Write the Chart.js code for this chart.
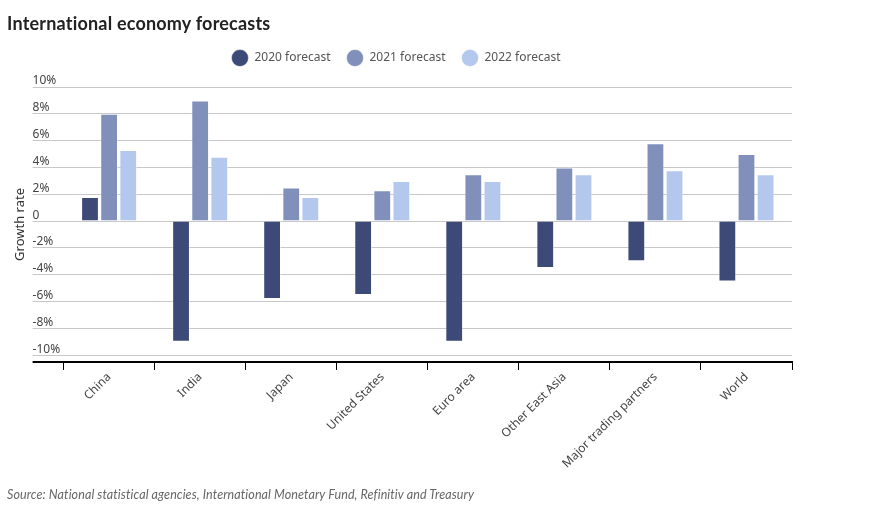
<!DOCTYPE html>
<html>
<head>
<meta charset="utf-8">
<title>International economy forecasts</title>
<script src="https://cdn.jsdelivr.net/npm/chart.js@4.4.0/dist/chart.umd.min.js"></script>
<style>
  body { margin: 0; background: #fff; }
  #wrap { position: relative; width: 871px; height: 505px; overflow: hidden; }
  #chart-box { position: absolute; left: 0; top: 0; width: 871px; height: 505px; }
  h1 { position: absolute; left: 7px; top: 12px; margin: 0; font: 700 18px Lato, sans-serif; letter-spacing: 0.2px; color: #222; z-index: 2; }
  .source { position: absolute; left: 7px; top: 487px; font: italic 12.5px Lato, sans-serif; letter-spacing: 0.1px; color: #666; z-index: 2; }
</style>
</head>
<body>
<div id="wrap">
  <h1>International economy forecasts</h1>
  <div id="chart-box"><canvas id="myChart"></canvas></div>
  <div class="source">Source: National statistical agencies, International Monetary Fund, Refinitiv and Treasury</div>
</div>
<script>
// data (growth rate, %)
const categories = ['China', 'India', 'Japan', 'United States', 'Euro area', 'Other East Asia', 'Major trading partners', 'World'];
const forecast2020 = [1.8, -9.0, -5.8, -5.5, -9.0, -3.5, -3.0, -4.5];
const forecast2021 = [8.0, 9.0, 2.5, 2.3, 3.5, 4.0, 5.8, 5.0];
const forecast2022 = [5.3, 4.8, 1.8, 3.0, 3.0, 3.5, 3.8, 3.5];
const yTicks = [10, 8, 6, 4, 2, 0, -2, -4, -6, -8, -10];
const yMax = 10;
const yMin = -10.5;

Chart.defaults.font.family = "'Noto Sans', sans-serif";
Chart.defaults.font.size = 12;
Chart.defaults.color = '#444';

// push the plot down a bit below the legend
const legendMargin = {
    id: 'legendMargin',
    beforeInit(chart) {
        const fitValue = chart.legend.fit;
        chart.legend.fit = function fit() {
            fitValue.bind(chart.legend)();
            this.height += 13;
        };
    }
};

const data = {
    labels: categories,
    datasets: [{
        label: '2020 forecast',
        data: forecast2020,
        backgroundColor: '#3d4977',
        borderColor: 'rgba(255,255,255,0.45)',
        borderWidth: 1
    }, {
        label: '2021 forecast',
        data: forecast2021,
        backgroundColor: '#8190ba',
        borderColor: 'rgba(255,255,255,0.45)',
        borderWidth: 1
    }, {
        label: '2022 forecast',
        data: forecast2022,
        backgroundColor: '#b4c8ee',
        borderColor: 'rgba(255,255,255,0.45)',
        borderWidth: 1
    }]
};

const config = {
    type: 'bar',
    data: data,
    options: {
        responsive: true,
        maintainAspectRatio: false,
        animation: false,
        categoryPercentage: 0.63,
        barPercentage: 0.93,
        layout: {
            padding: { top: 36, left: 0, right: 79, bottom: 34 }
        },
        plugins: {
            tooltip: { enabled: false },
            legend: {
                position: 'top',
                align: 'center',
                labels: {
                    usePointStyle: true,
                    pointStyle: 'circle',
                    pointStyleWidth: 17,
                    boxHeight: 12,
                    padding: 16,
                    color: '#555',
                    font: { size: 12 }
                }
            }
        },
        scales: {
            x: {
                offset: true,
                border: { display: true, color: '#000', width: 2 },
                grid: {
                    display: true,
                    offset: true,
                    drawOnChartArea: false,
                    drawTicks: true,
                    tickLength: 8,
                    color: '#000',
                    lineWidth: 1
                },
                ticks: {
                    minRotation: 45,
                    maxRotation: 45,
                    padding: 0,
                    color: '#444',
                    font: { size: 12 }
                }
            },
            y: {
                position: 'left',
                weight: 0,
                min: yMin,
                max: yMax,
                border: { display: false },
                grid: {
                    color: ctx => (ctx.tick && ctx.tick.value === yMin) ? '#000' : '#c8c8c8',
                    lineWidth: ctx => (ctx.tick && ctx.tick.value === yMin) ? 2 : 1,
                    drawTicks: true,
                    tickLength: 31
                },
                afterBuildTicks: scale => {
                    scale.ticks = [{ value: yMin }].concat(yTicks.map(v => ({ value: v })));
                },
                afterFit: scale => {
                    scale.width = 31;
                },
                ticks: {
                    crossAlign: 'far',
                    labelOffset: -6,
                    color: '#444',
                    font: { size: 12 },
                    callback: value => {
                        if (value === yMin) return '';
                        if (value === 0) return '0';
                        return value + '%';
                    }
                }
            },
            yTitle: {
                type: 'linear',
                position: 'left',
                weight: 1,
                border: { display: false },
                grid: { display: false, drawTicks: false },
                ticks: { display: false },
                title: {
                    display: true,
                    text: 'Growth rate',
                    color: '#333',
                    font: { size: 13 },
                    padding: { top: 12, bottom: 5 }
                }
            }
        }
    },
    plugins: [legendMargin]
};

const myChart = new Chart(document.getElementById('myChart'), config);
</script>
</body>
</html>
